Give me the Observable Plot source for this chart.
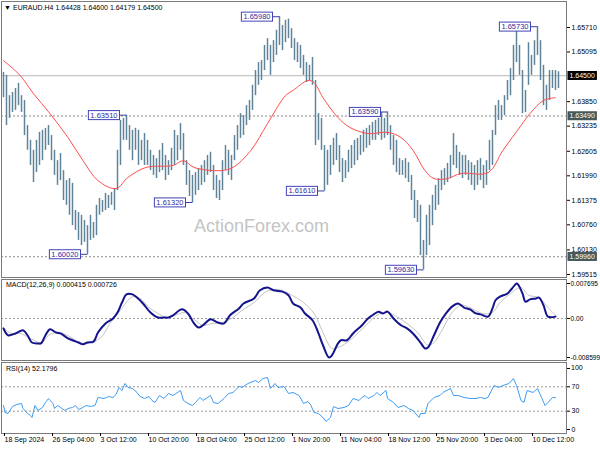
<!DOCTYPE html>
<html><head><meta charset="utf-8">
<script src="https://cdn.jsdelivr.net/npm/d3@7"></script>
<script src="https://cdn.jsdelivr.net/npm/@observablehq/plot@0.6"></script>
<style>
body{margin:0;background:#fff;}
#wrap{position:relative;width:600px;height:450px;overflow:hidden;background:#fff;font-family:"Liberation Sans",Arial,sans-serif;}
#wrap svg{position:absolute;left:0;}
.lbl{position:absolute;font-size:7px;line-height:8px;color:#000;white-space:nowrap;z-index:5;}
.wm{position:absolute;font-size:18px;color:#c4c4c4;white-space:nowrap;z-index:1;}
</style></head><body><div id="wrap"></div>
<script>
// ---- data (EURAUD H4; one sample per 2 H4 bars) ----
const barStep = 2;
const barHigh = [1.6458,1.6451,1.6400,1.6408,1.6418,1.6431,1.6400,1.6388,1.6325,1.6288,
1.6263,1.6288,1.6308,1.6313,1.6318,1.6325,1.6300,1.6263,1.6237,1.6255,
1.6212,1.6187,1.6192,1.6180,1.6112,1.6107,1.6100,1.6087,1.6074,1.6100,
1.6082,1.6125,1.6142,1.6137,1.6155,1.6150,1.6157,1.6167,1.6263,1.6338,
1.6343,1.6351,1.6325,1.6313,1.6318,1.6313,1.6288,1.6305,1.6288,1.6263,
1.6250,1.6242,1.6263,1.6280,1.6250,1.6237,1.6268,1.6313,1.6300,1.6330,
1.6305,1.6237,1.6212,1.6200,1.6207,1.6217,1.6225,1.6237,1.6250,1.6258,
1.6225,1.6200,1.6187,1.6237,1.6275,1.6263,1.6250,1.6300,1.6325,1.6355,
1.6350,1.6375,1.6388,1.6426,1.6463,1.6483,1.6488,1.6526,1.6543,1.6526,
1.6538,1.6564,1.6598,1.6576,1.6589,1.6592,1.6568,1.6543,1.6533,1.6526,
1.6501,1.6483,1.6476,1.6496,1.6438,1.6355,1.6343,1.6275,1.6263,1.6275,
1.6293,1.6305,1.6275,1.6242,1.6237,1.6263,1.6275,1.6288,1.6293,1.6300,
1.6313,1.6318,1.6325,1.6333,1.6338,1.6343,1.6358,1.6343,1.6359,1.6325,
1.6300,1.6288,1.6242,1.6237,1.6242,1.6232,1.6200,1.6162,1.6137,1.6125,
1.6037,1.6100,1.6125,1.6150,1.6175,1.6192,1.6212,1.6217,1.6230,1.6250,
1.6305,1.6275,1.6258,1.6250,1.6250,1.6237,1.6232,1.6225,1.6237,1.6242,
1.6225,1.6237,1.6288,1.6313,1.6375,1.6388,1.6375,1.6400,1.6438,1.6468,
1.6526,1.6564,1.6526,1.6463,1.6413,1.6533,1.6501,1.6538,1.6573,1.6538,
1.6476,1.6426,1.6463,1.6463,1.6463,1.6460];
const barLow = [1.6395,1.6325,1.6343,1.6358,1.6363,1.6375,1.6358,1.6300,1.6263,1.6225,
1.6182,1.6207,1.6225,1.6237,1.6263,1.6275,1.6237,1.6200,1.6175,1.6187,
1.6137,1.6125,1.6100,1.6074,1.6062,1.6037,1.6024,1.6032,1.6002,1.6037,
1.6042,1.6049,1.6100,1.6107,1.6112,1.6117,1.6125,1.6112,1.6162,1.6225,
1.6288,1.6288,1.6263,1.6237,1.6263,1.6225,1.6237,1.6225,1.6225,1.6212,
1.6200,1.6192,1.6207,1.6212,1.6187,1.6200,1.6212,1.6225,1.6237,1.6263,
1.6225,1.6175,1.6147,1.6132,1.6150,1.6162,1.6175,1.6182,1.6200,1.6207,
1.6162,1.6142,1.6137,1.6162,1.6212,1.6200,1.6187,1.6237,1.6263,1.6293,
1.6300,1.6325,1.6338,1.6363,1.6400,1.6426,1.6438,1.6463,1.6488,1.6451,
1.6483,1.6501,1.6526,1.6513,1.6533,1.6543,1.6518,1.6488,1.6483,1.6468,
1.6451,1.6433,1.6438,1.6426,1.6275,1.6288,1.6263,1.6161,1.6175,1.6200,
1.6225,1.6237,1.6207,1.6182,1.6192,1.6207,1.6217,1.6225,1.6237,1.6250,
1.6258,1.6268,1.6275,1.6288,1.6288,1.6300,1.6288,1.6293,1.6300,1.6263,
1.6225,1.6207,1.6200,1.6200,1.6192,1.6182,1.6137,1.6092,1.6082,1.5999,
1.5963,1.5999,1.6024,1.6074,1.6112,1.6125,1.6162,1.6175,1.6182,1.6192,
1.6225,1.6217,1.6200,1.6192,1.6200,1.6187,1.6175,1.6162,1.6175,1.6187,
1.6167,1.6175,1.6212,1.6225,1.6300,1.6338,1.6338,1.6350,1.6388,1.6400,
1.6438,1.6483,1.6451,1.6355,1.6358,1.6426,1.6451,1.6476,1.6501,1.6438,
1.6375,1.6363,1.6388,1.6418,1.6413,1.6418];

const maIdx = [0,11,20,31,43,53,63,75,83,95,113,120,127,145,153,165,176,188,193,203,207,213,223,231,243,256,265,273,281,287,296,305,323,333,345,351,360,368];
const maVal = [1.6488,1.6451,1.6405,1.6355,1.6295,1.6237,1.6187,1.6167,1.6195,1.6220,1.6225,1.6237,1.6220,1.6212,1.6220,1.6263,1.6330,1.6400,1.6413,1.6438,1.6433,1.6395,1.6345,1.6320,1.6305,1.6308,1.6295,1.6263,1.6212,1.6192,1.6192,1.6205,1.6207,1.6263,1.6325,1.6355,1.6388,1.6395];

const macdIdx = [0,3,8,13,16,19,23,25,28,31,35,38,43,46,50,53,56,60,63,68,73,76,79,82,86,89,93,98,103,107,110,113,119,123,127,130,133,138,143,147,151,157,160,167,171,176,180,186,190,193,198,201,206,210,213,217,219,223,225,229,233,239,243,246,250,253,256,260,265,269,273,278,281,283,287,291,295,299,303,307,311,315,318,323,326,328,331,336,339,342,343,346,348,351,355,357,360,363,368];
const macdVal = [-0.0022,-0.0037,-0.0033,-0.0026,-0.0037,-0.0053,-0.0055,-0.0055,-0.0037,-0.0024,-0.0031,-0.0033,-0.0044,-0.0048,-0.0053,-0.0057,-0.0053,-0.0051,-0.0031,-0.0011,0.0000,0.0013,0.0035,0.0053,0.0053,0.0046,0.0033,0.0013,0.0002,0.0002,0.0002,0.0007,0.0020,0.0011,-0.0011,-0.0020,-0.0015,-0.0002,-0.0009,-0.0011,0.0007,0.0022,0.0033,0.0044,0.0062,0.0068,0.0062,0.0059,0.0051,0.0033,0.0024,0.0011,-0.0004,-0.0033,-0.0059,-0.0086,-0.0081,-0.0055,-0.0048,-0.0048,-0.0033,-0.0015,0.0000,0.0007,0.0015,0.0011,0.0015,0.0000,-0.0015,-0.0022,-0.0033,-0.0053,-0.0066,-0.0064,-0.0037,-0.0009,0.0011,0.0026,0.0033,0.0024,0.0020,0.0011,0.0009,0.0004,0.0022,0.0040,0.0048,0.0055,0.0066,0.0077,0.0075,0.0055,0.0037,0.0042,0.0044,0.0046,0.0029,0.0004,0.0004];
const sigIdx = [0,5,11,18,25,31,38,45,51,58,65,71,78,86,91,97,103,109,116,121,127,133,139,146,153,159,167,175,183,189,196,200,207,213,219,223,229,236,243,249,256,263,269,276,283,287,293,299,305,311,319,326,331,338,345,350,357,363,368];
const sigVal = [-0.0020,-0.0033,-0.0033,-0.0044,-0.0053,-0.0035,-0.0031,-0.0042,-0.0053,-0.0053,-0.0042,-0.0011,0.0018,0.0048,0.0044,0.0024,0.0011,0.0002,0.0009,0.0013,-0.0002,-0.0015,-0.0011,-0.0009,0.0002,0.0018,0.0035,0.0059,0.0064,0.0057,0.0044,0.0035,0.0011,-0.0031,-0.0066,-0.0064,-0.0053,-0.0033,-0.0011,0.0007,0.0013,0.0002,-0.0011,-0.0031,-0.0059,-0.0053,-0.0022,0.0013,0.0029,0.0024,0.0011,0.0013,0.0035,0.0055,0.0068,0.0051,0.0046,0.0024,0.0007];

const rsiIdx = [0,1,3,6,9,12,13,16,18,19,21,23,26,28,30,33,34,36,38,41,43,46,48,50,53,55,58,61,63,67,70,73,75,77,79,81,83,86,89,91,94,97,99,101,104,107,110,113,118,120,123,126,128,131,133,138,140,143,147,150,153,157,159,163,168,170,173,176,178,181,183,187,190,193,197,200,203,205,207,210,213,215,218,220,223,227,230,233,237,239,241,243,247,249,251,255,256,260,263,267,270,273,277,278,281,283,287,291,293,298,300,303,307,311,315,318,321,323,327,330,333,337,340,342,345,347,349,353,356,359,361,363,366,368];
const rsiVal = [39.3,27.9,26.2,37.7,41.0,42.6,34.4,26.2,23.0,19.7,39.3,31.1,36.1,44.3,50.8,42.6,34.4,39.3,36.1,31.1,34.4,36.1,39.3,32.8,36.1,39.3,37.7,39.3,52.5,50.8,54.1,52.5,57.4,68.9,63.9,75.4,68.9,67.2,60.7,54.1,50.8,54.1,47.5,44.3,55.7,50.8,59.0,55.7,63.9,47.5,42.6,39.3,44.3,52.5,47.5,55.7,44.3,42.6,50.8,59.0,60.7,70.5,68.9,75.4,80.3,77.0,83.6,85.2,67.2,75.4,68.9,70.5,59.0,60.7,55.7,42.6,45.9,39.3,27.9,26.2,19.7,13.1,19.7,37.7,34.4,36.1,39.3,50.8,47.5,52.5,55.7,50.8,55.7,60.7,55.7,63.9,50.8,44.3,36.1,39.3,34.4,31.1,19.7,26.2,26.2,42.6,52.5,55.7,60.7,67.2,55.7,55.7,52.5,50.8,50.8,52.5,50.8,52.5,72.1,68.9,72.1,75.4,83.6,72.1,47.5,44.3,63.9,60.7,67.2,50.8,39.3,44.3,52.5,52.2];

const tickIdx = [0,32,64,96,128,160,192,224,256,288,320,352];
const tickLabels = ["18 Sep 2024","26 Sep 04:00","3 Oct 12:00","10 Oct 20:00","18 Oct 04:00","25 Oct 12:00","1 Nov 20:00","11 Nov 04:00","18 Nov 12:00","25 Nov 20:00","3 Dec 04:00","10 Dec 12:00"];
const priceTicks = [1.65710,1.65095,1.63850,1.63235,1.62605,1.61990,1.61375,1.60760,1.60130,1.59515];
const hiloIdx = [56,82,126,184,214,256,280,356];
const hiloPrice = [1.60020,1.63510,1.61320,1.65980,1.61610,1.63590,1.59630,1.65730];
const levelPrice = [1.64500,1.63490,1.59960];
const levelFill = ["#000000","#45595a","#45595a"];
const macdTicks = [0.007695,0,-0.008599];
const macdTickLabels = ["0.007695","0.00","-0.008599"];
const rsiTicks = [100,70,30,0];

// ---- build ----
const bars = barHigh.map((h,k)=>({i:k*barStep, hi:h, lo:barLow[k]}));
const ma = maIdx.map((i,k)=>({i, v:maVal[k]}));
const macd = macdIdx.map((i,k)=>({i, v:macdVal[k]}));
const sig = sigIdx.map((i,k)=>({i, v:sigVal[k]}));
const rsi = rsiIdx.map((i,k)=>({i, v:rsiVal[k]}));
const hilo = hiloIdx.map((i,k)=>({i, p:hiloPrice[k]}));
const levels = levelPrice.map((p,k)=>({p, fill:levelFill[k]}));
const f5 = d3.format(".5f");

const xDom = [-1.333, 375.333];
const FONT = "Liberation Sans, Arial, sans-serif";
const baseStyle = {fontFamily: FONT, fontSize: "7px", background: "transparent", overflow: "visible", color: "#000"};
const frameColor = "#7a7a7a";

const p1 = Plot.plot({
  width: 600, height: 278, marginLeft: 1, marginRight: 34, marginTop: 1, marginBottom: 1,
  style: baseStyle,
  x: {domain: xDom, axis: null, label: null},
  y: {domain: [1.59439, 1.66362], label: null},
  marks: [
    Plot.ruleY([levelPrice[0]], {stroke: "#b8b8b8", strokeWidth: 1}),
    Plot.ruleY(levelPrice.slice(1), {stroke: "#8a8a8a", strokeDasharray: "2,2", strokeWidth: 1}),
    Plot.ruleX(bars, {x: "i", y1: "lo", y2: "hi", stroke: "#5f8499", strokeWidth: 1.5}),
    Plot.line(ma, {x: "i", y: "v", stroke: "#ff4d4d", strokeWidth: 1, curve: "catmull-rom"}),
    Plot.link(hilo, {x1: d => d.i - 4.5, x2: "i", y1: "p", y2: "p", stroke: "#3a3aa8", strokeWidth: 1}),
    Plot.text(hilo, {x: "i", y: "p", text: d => f5(d.p), textAnchor: "end", dx: -9, fill: "#2e2ea0", fontSize: 7.5}),
    Plot.frame({stroke: frameColor}),
    Plot.axisY(priceTicks, {anchor: "right", tickSize: 3, tickPadding: 2, tickFormat: f5, fontSize: 7, label: null}),
    Plot.text(levels, {x: () => xDom[1], y: "p", text: d => f5(d.p), textAnchor: "start", dx: 3, fill: "#fff", fontSize: 7})
  ]
});

const p2 = Plot.plot({
  width: 600, height: 83, marginLeft: 1, marginRight: 34, marginTop: 1, marginBottom: 1,
  style: baseStyle,
  x: {domain: xDom, axis: null, label: null},
  y: {domain: [-0.009259, 0.008576], label: null},
  marks: [
    Plot.ruleY([0], {stroke: "#9a9a9a", strokeDasharray: "2,2"}),
    Plot.line(sig, {x: "i", y: "v", stroke: "#c4c4c4", strokeWidth: 1, curve: "catmull-rom"}),
    Plot.line(macd, {x: "i", y: "v", stroke: "#14148c", strokeWidth: 2, curve: "catmull-rom"}),
    Plot.frame({stroke: frameColor}),
    Plot.axisY(macdTicks, {anchor: "right", tickSize: 3, tickPadding: 1, tickFormat: d => macdTickLabels[macdTicks.indexOf(d)], fontSize: 6.6, label: null})
  ]
});

const p3Top = 351;
const p3 = Plot.plot({
  width: 600, height: 99, marginLeft: 1, marginRight: 34, marginTop: 11, marginBottom: 17,
  style: baseStyle,
  x: {domain: xDom, label: null},
  y: {domain: [-6.56, 109.8], label: null},
  marks: [
    Plot.ruleY([70, 30], {stroke: "#9a9a9a", strokeDasharray: "2,2"}),
    Plot.line(rsi, {x: "i", y: "v", stroke: "#3f9cf2", strokeWidth: 1}),
    Plot.frame({stroke: frameColor}),
    Plot.axisY(rsiTicks, {anchor: "right", tickSize: 3, tickPadding: 2, tickFormat: d => (d === 100 ? "" : String(d)), fontSize: 7, label: null}),
    Plot.axisX(tickIdx, {anchor: "bottom", tickSize: 3, tickPadding: 1, textAnchor: "start", dx: 1, fontSize: 7, label: null, tickFormat: d => tickLabels[tickIdx.indexOf(d)]})
  ]
});

const wrap = document.getElementById("wrap");
p1.style.top = "0px"; p2.style.top = "278px"; p3.style.top = p3Top + "px";
p1.style.zIndex = 1; p2.style.zIndex = 2; p3.style.zIndex = 3;
wrap.append(p1, p2, p3);

const NS = "http://www.w3.org/2000/svg";
function boxTexts(svg, strings, fillFn, stroke, padX, padY) {
  svg.querySelectorAll("text").forEach(t => {
    const k = strings.indexOf(t.textContent.trim());
    if (k < 0) return;
    const b = t.getBBox();
    const r = document.createElementNS(NS, "rect");
    r.setAttribute("x", b.x - padX);
    r.setAttribute("y", b.y - padY);
    r.setAttribute("width", b.width + 2 * padX);
    r.setAttribute("height", b.height + 2 * padY);
    if (t.getAttribute("transform")) r.setAttribute("transform", t.getAttribute("transform"));
    r.setAttribute("fill", fillFn(k));
    if (stroke) { r.setAttribute("stroke", stroke); r.setAttribute("stroke-width", 1); }
    t.parentNode.insertBefore(r, t);
  });
}
boxTexts(p1, hiloPrice.map(f5), () => "#ffffff", "#4444b8", 2, 0);
boxTexts(p1, levelPrice.map(f5), k => levelFill[k], null, 2, 1);

function addLabel(cls, text, left, top) {
  const d = document.createElement("div");
  d.className = cls; d.textContent = text;
  d.style.left = left + "px"; d.style.top = top + "px";
  wrap.appendChild(d);
}
addLabel("lbl", "▼", 4, 4);
addLabel("lbl", "EURAUD.H4  1.64428 1.64600 1.64179 1.64500", 13, 4);
addLabel("lbl", "MACD(12,26,9) 0.000415 0.000726", 6, 281);
addLabel("lbl", "RSI(14) 52.1796", 6, 365);
addLabel("wm", "ActionForex.com", 194, 216);
// RSI top tick label placed with the plot's own y scale
const yRsi = p3.scale("y");
addLabel("lbl", String(rsiTicks[0]), 571, p3Top + yRsi.apply(rsiTicks[0]) - 4);
</script></body></html>
